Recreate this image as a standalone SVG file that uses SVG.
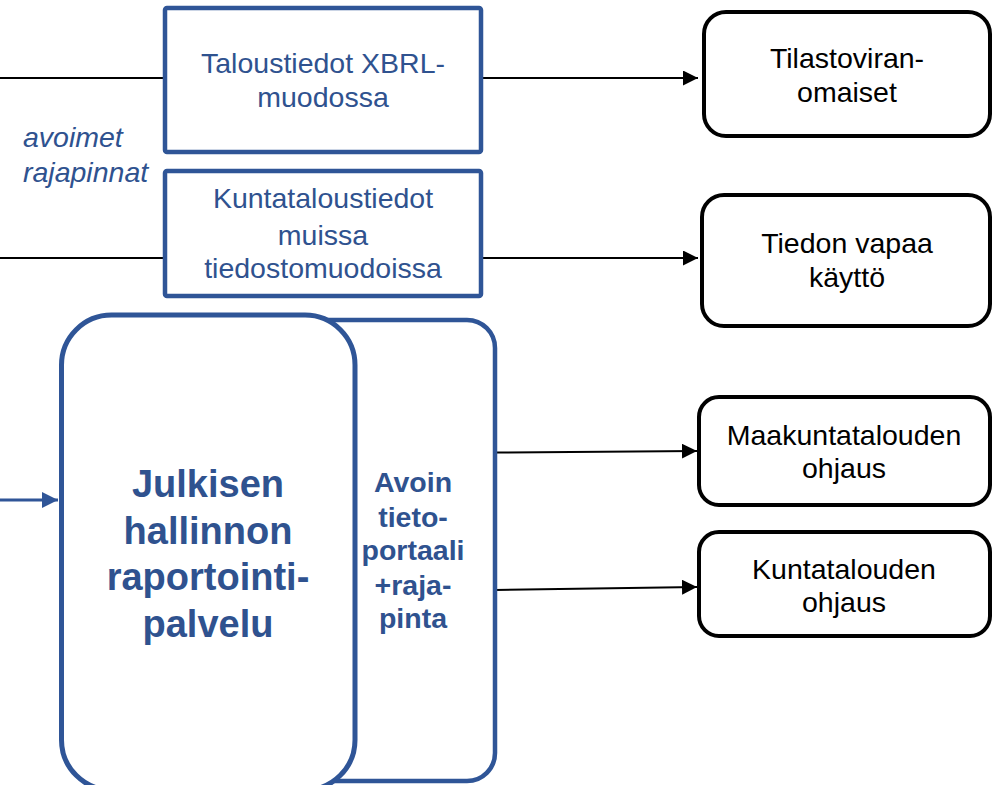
<svg xmlns="http://www.w3.org/2000/svg" width="1006" height="785" viewBox="0 0 1006 785">
<style>
.bg{fill:#ffffff}
.bluebox{fill:#ffffff;stroke:#2F5597;stroke-width:4.5}
.blackbox{fill:#ffffff;stroke:#000000;stroke-width:4}
.t{font-family:"Liberation Sans",Arial,sans-serif;font-size:28.5px;text-anchor:middle}
.blue{fill:#2F528F}
.black{fill:#000000}
.bold{font-weight:bold}
.big{font-size:38px}
.it{font-style:italic;text-anchor:start}
.conn{stroke:#000000;stroke-width:2;fill:none}
.connb{stroke:#2F5597;stroke-width:3;fill:none}
</style>
<defs>
<marker id="ah" markerUnits="userSpaceOnUse" markerWidth="16" markerHeight="16" refX="15" refY="7.5" orient="auto">
<path d="M0,0 L15,7.5 L0,15 z" fill="#000000"/>
</marker>
<marker id="ahb" markerUnits="userSpaceOnUse" markerWidth="17" markerHeight="17" refX="16" refY="8" orient="auto">
<path d="M0,0 L16,8 L0,16 z" fill="#2F5597"/>
</marker>
</defs>
<rect class="bg" x="0" y="0" width="1006" height="785"/>

<g id="connectors">
<line class="conn" x1="0" y1="78" x2="165" y2="78"/>
<line class="conn" x1="0" y1="258" x2="165" y2="258"/>
<line class="conn" x1="481" y1="78" x2="698" y2="78" marker-end="url(#ah)"/>
<line class="conn" x1="481" y1="258" x2="698" y2="258" marker-end="url(#ah)"/>
<line class="conn" x1="495" y1="452.5" x2="697" y2="451" marker-end="url(#ah)"/>
<line class="conn" x1="495" y1="590" x2="697" y2="587" marker-end="url(#ah)"/>
<line class="connb" x1="0" y1="500" x2="58" y2="500" marker-end="url(#ahb)"/>
</g>

<g id="label-avoimet">
<text class="t blue it" x="23" y="147">avoimet</text>
<text class="t blue it" x="23" y="182">rajapinnat</text>
</g>

<g id="node-xbrl">
<rect class="bluebox" x="165" y="8" width="316" height="144" rx="2"/>
<text class="t blue" x="323" y="73">Taloustiedot XBRL-</text>
<text class="t blue" x="323" y="107">muodossa</text>
</g>

<g id="node-kuntatalous">
<rect class="bluebox" x="165" y="171" width="316" height="125" rx="2"/>
<text class="t blue" x="323" y="208">Kuntataloustiedot</text>
<text class="t blue" x="323" y="245">muissa</text>
<text class="t blue" x="323" y="278">tiedostomuodoissa</text>
</g>

<g id="node-portaali">
<rect class="bluebox" x="300" y="320" width="195" height="461" rx="28"/>
<text class="t blue bold" x="413" y="492">Avoin</text>
<text class="t blue bold" x="413" y="527">tieto-</text>
<text class="t blue bold" x="413" y="560">portaali</text>
<text class="t blue bold" x="413" y="595">+raja-</text>
<text class="t blue bold" x="413" y="628">pinta</text>
</g>

<g id="node-raportointi">
<rect class="bluebox" x="61.5" y="315" width="293.5" height="475" rx="50" style="stroke-width:5"/>
<text class="t blue bold big" x="208" y="497">Julkisen</text>
<text class="t blue bold big" x="208" y="544">hallinnon</text>
<text class="t blue bold big" x="208" y="590">raportointi-</text>
<text class="t blue bold big" x="208" y="637">palvelu</text>
</g>

<g id="node-tilasto">
<rect class="blackbox" x="704" y="12" width="286" height="124" rx="22"/>
<text class="t black" x="847" y="68">Tilastoviran-</text>
<text class="t black" x="847" y="102">omaiset</text>
</g>

<g id="node-vapaa">
<rect class="blackbox" x="702" y="195" width="288" height="131" rx="22"/>
<text class="t black" x="847" y="253">Tiedon vapaa</text>
<text class="t black" x="847" y="287">käyttö</text>
</g>

<g id="node-maakunta">
<rect class="blackbox" x="699" y="397" width="291" height="108" rx="20"/>
<text class="t black" x="844" y="445">Maakuntatalouden</text>
<text class="t black" x="844" y="478">ohjaus</text>
</g>

<g id="node-kunta">
<rect class="blackbox" x="699" y="532" width="291" height="104" rx="20"/>
<text class="t black" x="844" y="579">Kuntatalouden</text>
<text class="t black" x="844" y="612">ohjaus</text>
</g>
</svg>
